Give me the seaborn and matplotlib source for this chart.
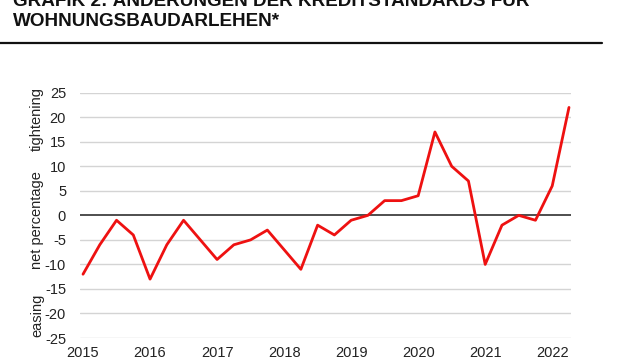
import matplotlib
matplotlib.use("Agg")
import matplotlib.pyplot as plt
from matplotlib.lines import Line2D
import seaborn as sns
import pandas as pd

quarters = ["2015Q1", "2015Q2", "2015Q3", "2015Q4",
            "2016Q1", "2016Q2", "2016Q3", "2016Q4",
            "2017Q1", "2017Q2", "2017Q3", "2017Q4",
            "2018Q1", "2018Q2", "2018Q3", "2018Q4",
            "2019Q1", "2019Q2", "2019Q3", "2019Q4",
            "2020Q1", "2020Q2", "2020Q3", "2020Q4",
            "2021Q1", "2021Q2", "2021Q3", "2021Q4",
            "2022Q1", "2022Q2"]
values = [-12, -6, -1, -4,
          -13, -6, -1, -5,
          -9, -6, -5, -3,
          -7, -11, -2, -4,
          -1, 0, 3, 3,
          4, 17, 10, 7,
          -10, -2, 0, -1,
          6, 22]
year_labels = ["2015", "2016", "2017", "2018", "2019", "2020", "2021", "2022"]
y_ticks = [25, 20, 15, 10, 5, 0, -5, -10, -15, -20, -25]

sns.set_theme(style="white")
plt.rcParams["font.family"] = ["Liberation Sans", "DejaVu Sans"]

df = pd.DataFrame({"pos": range(len(values)), "quarter": quarters, "value": values})

fig = plt.figure(figsize=(6.4, 3.6), dpi=100)
W, H = 640, 360
def fx(px): return px / W
def fy(py): return 1 - py / H

ax = fig.add_axes([fx(80), fy(338), fx(571) - fx(80), fy(92.7) - fy(338)])

for t in y_ticks:
    if t == 0:
        ax.axhline(t, color="#404040", lw=1.3, zorder=2)
    else:
        ax.axhline(t, color="#d4d4d4", lw=1.0, zorder=1)

sns.lineplot(data=df, x="pos", y="value", color="#ee1111", lw=2.0, ax=ax, zorder=3)

ax.set_xlim(-0.18, 29.12)
ax.set_ylim(-25, 25)
year_pos = [df.index[df["quarter"] == y + "Q1"][0] for y in year_labels]
ax.set_xticks(year_pos)
ax.set_xticklabels(year_labels)
ax.set_yticks(y_ticks)
ax.set_yticklabels([str(t) for t in y_ticks])
ax.tick_params(axis="both", length=0, labelsize=10.5, labelcolor="#222222")
ax.tick_params(axis="y", pad=10)
ax.tick_params(axis="x", pad=6)
for s in ax.spines.values():
    s.set_visible(False)
ax.set_xlabel("")
ax.set_ylabel("")
ax.grid(False)

fig.text(fx(37), fy(119), "tightening", rotation=90, ha="center", va="center", fontsize=10.5, color="#222222")
fig.text(fx(37), fy(220), "net percentage", rotation=90, ha="center", va="center", fontsize=10.5, color="#222222")
fig.text(fx(37), fy(315), "easing", rotation=90, ha="center", va="center", fontsize=10.5, color="#222222")

fig.text(fx(13), fy(6.5), "GRAFIK 2: ÄNDERUNGEN DER KREDITSTANDARDS FÜR", ha="left", va="baseline",
         fontsize=13.6, fontweight="bold", color="#111111")
fig.text(fx(13), fy(26.5), "WOHNUNGSBAUDARLEHEN*", ha="left", va="baseline",
         fontsize=13.6, fontweight="bold", color="#111111")
fig.add_artist(Line2D([0, fx(602)], [fy(43), fy(43)], color="#111111", lw=1.6, transform=fig.transFigure))

fig.savefig("out.png", dpi=100)
